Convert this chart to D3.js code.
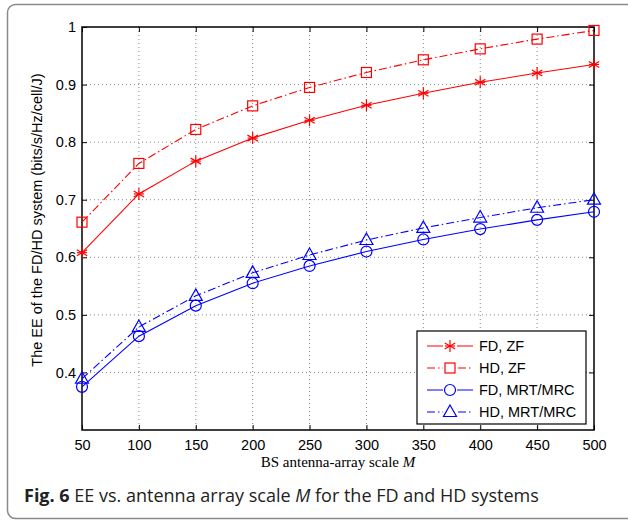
<!DOCTYPE html>
<html>
<head>
<meta charset="utf-8">
<script src="https://cdn.jsdelivr.net/npm/d3@7"></script>
<style>
  body { margin: 0; background: #fff; }
  svg text { font-family: "Liberation Sans", Arial, sans-serif; }
  .tick text { font-size: 14.5px; fill: #000; }
  .grid line { stroke: #888; stroke-dasharray: 1,3; }
</style>
</head>
<body>
<div id="chart"></div>
<script>
// data
var scales = [50, 100, 150, 200, 250, 300, 350, 400, 450, 500];
var fdZF  = [0.608, 0.710, 0.767, 0.807, 0.838, 0.864, 0.885, 0.904, 0.920, 0.935];
var hdZF  = [0.661, 0.763, 0.822, 0.863, 0.895, 0.921, 0.943, 0.962, 0.979, 0.994];
var fdMRT = [0.375, 0.463, 0.516, 0.555, 0.585, 0.610, 0.631, 0.649, 0.665, 0.679];
var hdMRT = [0.389, 0.479, 0.533, 0.573, 0.604, 0.630, 0.651, 0.669, 0.686, 0.700];
var yTicks = [0.4, 0.5, 0.6, 0.7, 0.8, 0.9, 1];
var seriesNames = ["FD, ZF", "HD, ZF", "FD, MRT/MRC", "HD, MRT/MRC"];

var WIDTH = 628, HEIGHT = 524;
var plot = {left: 82, top: 27, right: 594, bottom: 430};

var series = [
    {name: seriesNames[0], values: fdZF,  color: "#ff0000", dash: null,        marker: "star"},
    {name: seriesNames[1], values: hdZF,  color: "#ff0000", dash: "8,3,1.5,3", marker: "square"},
    {name: seriesNames[2], values: fdMRT, color: "#0000ff", dash: null,        marker: "circle"},
    {name: seriesNames[3], values: hdMRT, color: "#0000ff", dash: "8,3,1.5,3", marker: "triangle"}
];

var svg = d3.select("#chart").append("svg")
    .attr("width", WIDTH)
    .attr("height", HEIGHT);

// outer rounded frame (clipped on the right)
svg.append("rect")
    .attr("x", 7.5).attr("y", 4.5)
    .attr("width", 660).attr("height", 514)
    .attr("rx", 8)
    .attr("fill", "none")
    .attr("stroke", "#8a8a8a")
    .attr("stroke-width", 1.5);

var x = d3.scaleLinear().domain([50, 500]).range([plot.left, plot.right]);
var y = d3.scaleLinear().domain([0.3, 1]).range([plot.bottom, plot.top]);

// grid
var grid = svg.append("g").classed("grid", true);
grid.selectAll(".gx")
    .data(scales.slice(1, -1))
    .enter().append("line")
    .attr("x1", function(d){ return x(d); })
    .attr("x2", function(d){ return x(d); })
    .attr("y1", plot.top).attr("y2", plot.bottom);
grid.selectAll(".gy")
    .data(yTicks.slice(0, -1))
    .enter().append("line")
    .attr("y1", function(d){ return y(d); })
    .attr("y2", function(d){ return y(d); })
    .attr("x1", plot.left).attr("x2", plot.right);

// axes (matlab style, ticks inside)
var xAxis = d3.axisBottom(x).tickValues(scales).tickSize(-5).tickPadding(10).tickSizeOuter(0);
var yAxis = d3.axisLeft(y).tickValues(yTicks).tickSize(-5).tickPadding(6).tickSizeOuter(0)
    .tickFormat(function(d){ return d === 1 ? "1" : d3.format(".1f")(d); });

svg.append("g")
    .attr("transform", "translate(0," + plot.bottom + ")")
    .call(xAxis);
svg.append("g")
    .attr("transform", "translate(" + plot.left + ",0)")
    .call(yAxis);
svg.append("g")
    .attr("transform", "translate(0," + plot.top + ")")
    .call(d3.axisTop(x).tickValues(scales).tickSize(-5).tickFormat("").tickSizeOuter(0));
svg.append("g")
    .attr("transform", "translate(" + plot.right + ",0)")
    .call(d3.axisRight(y).tickValues(yTicks).tickSize(-5).tickFormat("").tickSizeOuter(0));

svg.selectAll(".domain").remove();
svg.selectAll(".tick line").attr("stroke", "#000");

svg.append("rect")
    .attr("x", plot.left).attr("y", plot.top)
    .attr("width", plot.right - plot.left)
    .attr("height", plot.bottom - plot.top)
    .attr("fill", "none")
    .attr("stroke", "#000")
    .attr("stroke-width", 1.5);

// markers
function drawMarker(g, type, color) {
    if (type === "star") {
        var r = 6;
        [0, 60, 120].forEach(function(a) {
            var rad = a * Math.PI / 180;
            g.append("line")
                .attr("x1", -r * Math.sin(rad)).attr("y1", -r * Math.cos(rad))
                .attr("x2", r * Math.sin(rad)).attr("y2", r * Math.cos(rad))
                .attr("stroke", color).attr("stroke-width", 1.2);
        });
        g.append("line").attr("x1", -5).attr("x2", 5).attr("y1", 0).attr("y2", 0)
            .attr("stroke", color).attr("stroke-width", 1.2);
    } else if (type === "square") {
        g.append("rect").attr("x", -5).attr("y", -5).attr("width", 10).attr("height", 10)
            .attr("fill", "none").attr("stroke", color).attr("stroke-width", 1.2);
    } else if (type === "circle") {
        g.append("circle").attr("r", 5.5)
            .attr("fill", "none").attr("stroke", color).attr("stroke-width", 1.2);
    } else if (type === "triangle") {
        g.append("path").attr("d", "M0,-7L6.5,4.5L-6.5,4.5Z")
            .attr("fill", "none").attr("stroke", color).attr("stroke-width", 1.2);
    }
}

var line = d3.line()
    .x(function(d, i){ return x(scales[i]); })
    .y(function(d){ return y(d); });

series.forEach(function(s) {
    svg.append("path")
        .datum(s.values)
        .attr("d", line)
        .attr("fill", "none")
        .attr("stroke", s.color)
        .attr("stroke-width", 1.1)
        .attr("stroke-dasharray", s.dash);

    svg.selectAll(null)
        .data(s.values)
        .enter().append("g")
        .attr("transform", function(d, i){ return "translate(" + x(scales[i]) + "," + y(d) + ")"; })
        .each(function() { drawMarker(d3.select(this), s.marker, s.color); });
});

// legend
var legend = svg.append("g").attr("transform", "translate(417,331)");
legend.append("rect")
    .attr("width", 169).attr("height", 93)
    .attr("fill", "#fff").attr("stroke", "#000").attr("stroke-width", 1.2);

var items = legend.selectAll(".item")
    .data(series)
    .enter().append("g")
    .attr("transform", function(d, i){ return "translate(0," + (15 + i * 22) + ")"; });

items.append("line")
    .attr("x1", 10).attr("x2", 56)
    .attr("stroke", function(d){ return d.color; })
    .attr("stroke-width", 1.1)
    .attr("stroke-dasharray", function(d){ return d.dash; });

items.append("g")
    .attr("transform", "translate(33,0)")
    .each(function(d) {
        var g = d3.select(this);
        g.append("rect").attr("x", -7).attr("y", -8).attr("width", 14).attr("height", 16).attr("fill", "#fff");
        drawMarker(g, d.marker, d.color);
    });

items.append("text")
    .attr("x", 62).attr("y", 5)
    .style("font-size", "14.5px")
    .text(function(d){ return d.name; });

// axis titles
var xt = svg.append("text")
    .attr("x", (plot.left + plot.right) / 2)
    .attr("y", 467)
    .attr("text-anchor", "middle")
    .style("font-family", "'Liberation Serif', 'DejaVu Serif', serif")
    .style("font-size", "15px");
xt.append("tspan").text("BS antenna-array scale ");
xt.append("tspan").style("font-style", "italic").text("M");

svg.append("text")
    .attr("transform", "translate(42,220) rotate(-90)")
    .attr("text-anchor", "middle")
    .style("font-size", "14.5px")
    .text("The EE of the FD/HD system (bits/s/Hz/cell/J)");

// caption
var cap = svg.append("text")
    .attr("x", 24)
    .attr("y", 502)
    .style("font-family", "'Open Sans', sans-serif")
    .style("font-size", "18px")
    .style("fill", "#222");
cap.append("tspan").style("font-weight", "bold").text("Fig. 6");
cap.append("tspan").text(" EE vs. antenna array scale ");
cap.append("tspan").style("font-style", "italic").text("M");
cap.append("tspan").text(" for the FD and HD systems");
</script>
</body>
</html>
